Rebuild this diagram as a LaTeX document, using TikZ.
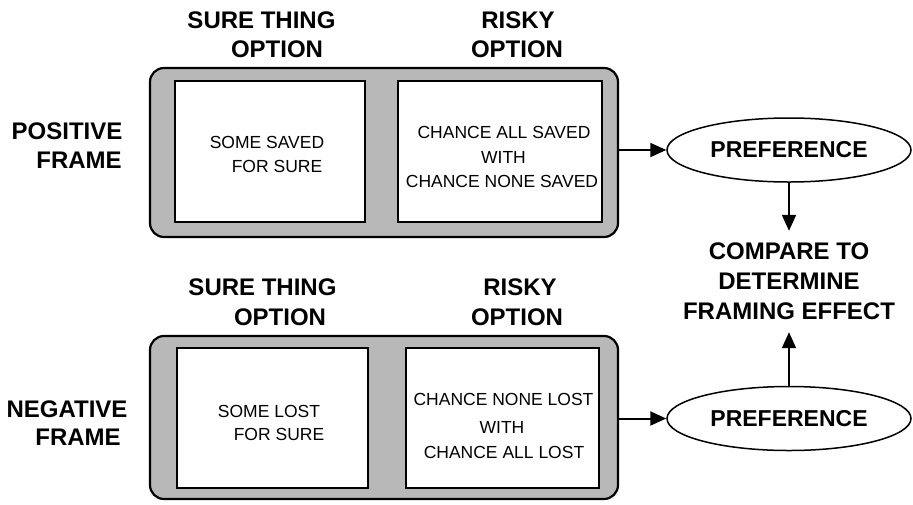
\documentclass[tikz,border=0pt]{standalone}
\usepackage{fontspec}
\setmainfont{Liberation Sans}
\newfontfamily\condfont{Liberation Sans}
\usetikzlibrary{shapes.geometric,arrows.meta}
\definecolor{framegray}{RGB}{184,184,184}
\tikzset{
  hdr/.style={font=\bfseries\fontsize{24}{24}\selectfont, inner sep=0pt, anchor=base},
  txt/.style={font=\condfont\fontsize{17.5}{17.5}\selectfont, inner sep=0pt, anchor=base},
  outerbox/.style={draw, line width=2.2pt, rounded corners=14pt, fill=framegray, inner sep=0pt},
  innerbox/.style={draw, line width=1.8pt, fill=white, inner sep=0pt},
  pref/.style={ellipse, draw, line width=1.5pt, fill=white, inner sep=0pt,
    minimum width=244pt, minimum height=64pt, font=\bfseries\fontsize{23}{23}\selectfont},
  arr/.style={line width=2pt, -{Triangle[length=16pt,width=14pt]}}
}
\begin{document}
\begin{tikzpicture}[x=1pt,y=-1pt]
\useasboundingbox (0,0) rectangle (913,504);
% top frame
\node[outerbox, minimum width=468pt, minimum height=169pt] (otop) at (384,152.5) {};
\node[innerbox, minimum width=190pt, minimum height=141pt] (itopl) at (270,151.5) {};
\node[innerbox, minimum width=204pt, minimum height=141pt] (itopr) at (500,151.5) {};
% bottom frame
\node[outerbox, minimum width=468pt, minimum height=163pt] (obot) at (384,417.5) {};
\node[innerbox, minimum width=191pt, minimum height=140pt] (ibotl) at (272.5,418) {};
\node[innerbox, minimum width=193pt, minimum height=140pt] (ibotr) at (502.5,418) {};
% headers
\node[hdr] (h1) at (261.5,28) {SURE THING};
\node[hdr] (h2) at (277,57) {OPTION};
\node[hdr] (h3) at (518,28) {RISKY};
\node[hdr] (h4) at (517,57) {OPTION};
\node[hdr] (h5) at (262.5,295) {SURE THING};
\node[hdr] (h6) at (280,325) {OPTION};
\node[hdr] (h7) at (520,295) {RISKY};
\node[hdr] (h8) at (517,325) {OPTION};
\node[hdr] (f1) at (67,139) {POSITIVE};
\node[hdr] (f2) at (79,168) {FRAME};
\node[hdr] (f3) at (67,417) {NEGATIVE};
\node[hdr] (f4) at (78,445) {FRAME};
% inner texts
\node[txt] (t1) at (267,148) {SOME SAVED};
\node[txt] (t2) at (277,172) {FOR SURE};
\node[txt] (t3) at (504,138) {CHANCE ALL SAVED};
\node[txt] (t4) at (503.5,163) {WITH};
\node[txt] (t5) at (502,187) {CHANCE NONE SAVED};
\node[txt] (t6) at (269,417) {SOME LOST};
\node[txt] (t7) at (279,440) {FOR SURE};
\node[txt] (t8) at (503.5,405) {CHANCE NONE LOST};
\node[txt] (t9) at (502,433) {WITH};
\node[txt] (t10) at (504,458) {CHANCE ALL LOST};
% preferences
\node[pref] (ptop) at (789,150) {PREFERENCE};
\node[pref] (pbot) at (789,418.5) {PREFERENCE};
\node[font=\bfseries\fontsize{24}{30}\selectfont, align=center, inner xsep=0pt, inner ysep=12pt] (cmp) at (789,281.5) {COMPARE TO\\DETERMINE\\FRAMING EFFECT};
% arrows
\draw[arr] (otop.east |- ptop) -- (ptop);
\draw[arr] (obot.east |- pbot) -- (pbot);
\draw[arr] (ptop) -- (cmp);
\draw[arr] (pbot) -- (cmp);
\end{tikzpicture}
\end{document}
